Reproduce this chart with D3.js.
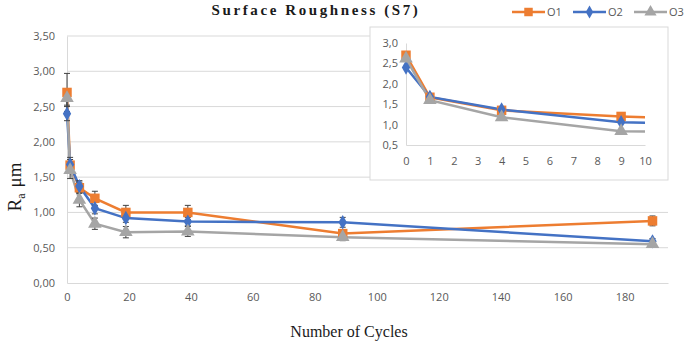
<!DOCTYPE html>
<html>
<head>
<meta charset="utf-8">
<script src="https://cdn.jsdelivr.net/npm/d3@7"></script>
<style>
  body { margin: 0; background: #fff; }
  .tick text { font-family: "Open Sans", "Noto Sans", sans-serif; font-size: 11px; fill: #595959; }
</style>
</head>
<body>
<div id="chart"></div>
<script>
// cycles measured
const cycles = [0, 1, 4, 9, 19, 39, 89, 189];
const seriesNames = ["O1", "O2", "O3"];
const o1 = [2.70, 1.67, 1.35, 1.20, 1.00, 1.00, 0.70, 0.88];
const o2 = [2.40, 1.68, 1.37, 1.06, 0.92, 0.87, 0.86, 0.59];
const o3 = [2.62, 1.60, 1.18, 0.84, 0.72, 0.73, 0.65, 0.55];
const o1Err = [0.27, 0.08, 0.08, 0.10, 0.10, 0.10, 0.05, 0.07];
const o2Err = [0.10, 0.10, 0.08, 0.08, 0.06, 0.06, 0.07, 0.04];
const o3Err = [0.10, 0.12, 0.10, 0.08, 0.08, 0.07, 0.05, 0.04];
const yTicks = [0, 0.5, 1, 1.5, 2, 2.5, 3, 3.5];
const xTicks = [0, 20, 40, 60, 80, 100, 120, 140, 160, 180];
const insetXTicks = [0, 1, 2, 3, 4, 5, 6, 7, 8, 9, 10];
const insetYTicks = [0.5, 1.0, 1.5, 2.0, 2.5, 3.0];

const colors = { O1: "#ED7D31", O2: "#4472C4", O3: "#A5A5A5" };
const shapes = { O1: d3.symbolSquare, O2: d3.symbolDiamond, O3: d3.symbolTriangle };
const sizes = { O1: 90, O2: 60, O3: 80 };

const series = seriesNames.map((name, i) => ({
  name,
  values: cycles.map((c, j) => ({ x: c, y: [o1, o2, o3][i][j], e: [o1Err, o2Err, o3Err][i][j] }))
}));

const width = 685, height = 344;
const svg = d3.select("#chart").append("svg").attr("width", width).attr("height", height);
const fmt = d => d3.format(".2f")(d).replace(".", ",");

// main chart
const x = d3.scaleLinear().domain([0, 194]).range([67, 668]);
const y = d3.scaleLinear().domain([0, 3.5]).range([283, 36]);

svg.append("g").selectAll("line").data(yTicks.slice(1)).join("line")
  .attr("x1", x(0)).attr("x2", x(194))
  .attr("y1", d => y(d)).attr("y2", d => y(d))
  .attr("stroke", "#d9d9d9").attr("stroke-width", 1);

const yAxis = svg.append("g").attr("transform", `translate(${x(0)},0)`)
  .call(d3.axisLeft(y).tickValues(yTicks).tickFormat(fmt).tickSize(0).tickPadding(12));
yAxis.select(".domain").attr("stroke", "#d9d9d9");

const xAxis = svg.append("g").attr("transform", `translate(0,${y(0)})`)
  .call(d3.axisBottom(x).tickValues(xTicks).tickSize(0).tickPadding(10));
xAxis.select(".domain").attr("stroke", "#d9d9d9");

const line = d3.line().x(d => x(d.x)).y(d => y(d.y));

series.forEach(s => {
  svg.append("path").datum(s.values).attr("d", line)
    .attr("fill", "none").attr("stroke", colors[s.name]).attr("stroke-width", 2.5);
});

// error bars
series.forEach(s => {
  const g = svg.append("g").attr("stroke", "#404040").attr("stroke-width", 1);
  s.values.forEach(d => {
    g.append("line").attr("x1", x(d.x)).attr("x2", x(d.x)).attr("y1", y(d.y - d.e)).attr("y2", y(d.y + d.e));
    g.append("line").attr("x1", x(d.x) - 3).attr("x2", x(d.x) + 3).attr("y1", y(d.y - d.e)).attr("y2", y(d.y - d.e));
    g.append("line").attr("x1", x(d.x) - 3).attr("x2", x(d.x) + 3).attr("y1", y(d.y + d.e)).attr("y2", y(d.y + d.e));
  });
});

series.forEach(s => {
  svg.append("g").selectAll("path").data(s.values).join("path")
    .attr("transform", d => `translate(${x(d.x)},${y(d.y)})`)
    .attr("d", d3.symbol().type(shapes[s.name]).size(sizes[s.name]))
    .attr("fill", colors[s.name]);
});

// inset
svg.append("rect").attr("x", 370).attr("y", 27).attr("width", 298).attr("height", 153)
  .attr("fill", "#fff").attr("stroke", "#d9d9d9");

const ix = d3.scaleLinear().domain([0, 10]).range([406, 645]);
const iy = d3.scaleLinear().domain([0.5, 3.0]).range([145, 43]);

svg.append("clipPath").attr("id", "insetClip").append("rect")
  .attr("x", 395).attr("y", 30).attr("width", ix(10) - 395).attr("height", 120);

const iyAxis = svg.append("g").attr("transform", `translate(${ix(0)},0)`)
  .call(d3.axisLeft(iy).tickValues(insetYTicks).tickFormat(d => d3.format(".1f")(d).replace(".", ",")).tickSize(0).tickPadding(8));
iyAxis.select(".domain").attr("stroke", "#d9d9d9");

const ixAxis = svg.append("g").attr("transform", `translate(0,${iy(0.5)})`)
  .call(d3.axisBottom(ix).tickValues(insetXTicks).tickSize(0).tickPadding(12));
ixAxis.select(".domain").attr("stroke", "#d9d9d9");

const iline = d3.line().x(d => ix(d.x)).y(d => iy(d.y));
series.forEach(s => {
  svg.append("path").datum(s.values).attr("d", iline).attr("clip-path", "url(#insetClip)")
    .attr("fill", "none").attr("stroke", colors[s.name]).attr("stroke-width", 2.5);
});
series.forEach(s => {
  svg.append("g").selectAll("path").data(s.values.filter(d => d.x <= 10)).join("path")
    .attr("transform", d => `translate(${ix(d.x)},${iy(d.y)})`)
    .attr("d", d3.symbol().type(shapes[s.name]).size(sizes[s.name]))
    .attr("fill", colors[s.name]);
});

// title and axis labels
svg.append("text").attr("x", 316).attr("y", 15).attr("text-anchor", "middle")
  .attr("font-family", "Liberation Serif, serif").attr("font-weight", "bold")
  .attr("font-size", "15px").attr("letter-spacing", "2.6px").attr("fill", "#1a1a1a")
  .text("Surface Roughness (S7)");

svg.append("text").attr("x", 349).attr("y", 337).attr("text-anchor", "middle")
  .attr("font-family", "Liberation Serif, serif").attr("font-size", "16px").attr("fill", "#1a1a1a")
  .text("Number of Cycles");

const yl = svg.append("text").attr("transform", "translate(21,187) rotate(-90)").attr("text-anchor", "middle")
  .attr("font-family", "Liberation Serif, serif").attr("font-size", "19px").attr("fill", "#1a1a1a");
yl.append("tspan").text("R");
yl.append("tspan").attr("font-size", "12px").attr("dy", 4).text("a");
yl.append("tspan").attr("dy", -4).attr("dx", 6).text("μm");

// legend
const legend = svg.append("g");
seriesNames.forEach((name, i) => {
  const lx = 512 + i * 61;
  legend.append("line").attr("x1", lx).attr("x2", lx + 33).attr("y1", 12).attr("y2", 12)
    .attr("stroke", colors[name]).attr("stroke-width", 2.5);
  legend.append("path").attr("transform", `translate(${lx + 16.5},12)`)
    .attr("d", d3.symbol().type(shapes[name]).size(sizes[name] * 0.8)).attr("fill", colors[name]);
  legend.append("text").attr("x", lx + 35).attr("y", 16)
    .attr("font-family", "Open Sans, sans-serif").attr("font-size", "11px").attr("fill", "#595959")
    .text(name);
});
</script>
</body>
</html>
